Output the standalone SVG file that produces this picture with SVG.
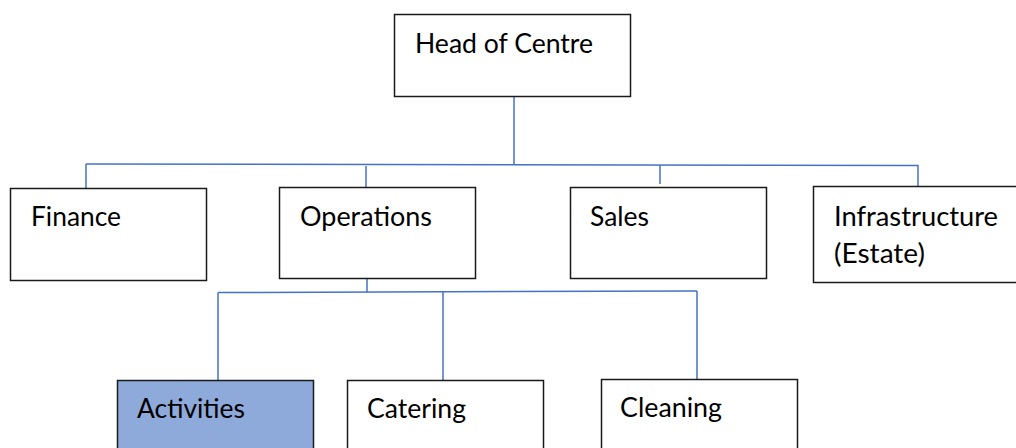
<svg xmlns="http://www.w3.org/2000/svg" width="1016" height="448" viewBox="0 0 1016 448">
<style>
.box{fill:#ffffff;stroke:#1a1a1a;stroke-width:1.5}
.hl{fill:#8eaadb}
.t{font-family:Lato,"Open Sans","Liberation Sans",sans-serif;font-size:26px;fill:#000}
.c{fill:none;stroke:#4472c4;stroke-width:1.5}
</style>
<rect width="1016" height="448" fill="#ffffff"/>
<g id="connectors">
<path class="c" d="M514 96V164.5"/>
<path class="c" d="M86 164L918 165.5"/>
<path class="c" d="M86 164V188"/>
<path class="c" d="M366 166V187"/>
<path class="c" d="M660 165V184"/>
<path class="c" d="M918 165V188"/>
<path class="c" d="M367 278V292"/>
<path class="c" d="M218 292.5L697 291"/>
<path class="c" d="M218 292.5V380"/>
<path class="c" d="M443 292V380"/>
<path class="c" d="M697 291V379"/>
</g>
<g id="head">
<rect class="box" x="394.5" y="14.5" width="236" height="82"/>
<text class="t" x="415" y="53" textLength="178" lengthAdjust="spacingAndGlyphs">Head of Centre</text>
</g>
<g id="finance">
<rect class="box" x="10.5" y="188.5" width="196" height="92"/>
<text class="t" x="31" y="226" textLength="90" lengthAdjust="spacingAndGlyphs">Finance</text>
</g>
<g id="operations">
<rect class="box" x="279.5" y="187.5" width="196" height="91"/>
<text class="t" x="300" y="226" textLength="132" lengthAdjust="spacingAndGlyphs">Operations</text>
</g>
<g id="sales">
<rect class="box" x="570.5" y="187.5" width="196" height="91"/>
<text class="t" x="590" y="226" textLength="59" lengthAdjust="spacingAndGlyphs">Sales</text>
</g>
<g id="infrastructure">
<rect class="box" x="813.5" y="186.5" width="210" height="96"/>
<text class="t" x="834" y="226" textLength="164" lengthAdjust="spacingAndGlyphs">Infrastructure</text>
<text class="t" x="834" y="263" textLength="91" lengthAdjust="spacingAndGlyphs">(Estate)</text>
</g>
<g id="activities">
<rect class="box hl" x="117.5" y="380.5" width="196" height="80"/>
<text class="t" x="137" y="418" textLength="108" lengthAdjust="spacingAndGlyphs">Activities</text>
</g>
<g id="catering">
<rect class="box" x="347.5" y="380.5" width="196" height="80"/>
<text class="t" x="367" y="418" textLength="99" lengthAdjust="spacingAndGlyphs">Catering</text>
</g>
<g id="cleaning">
<rect class="box" x="601.5" y="379.5" width="196" height="80"/>
<text class="t" x="620" y="417" textLength="102" lengthAdjust="spacingAndGlyphs">Cleaning</text>
</g>
</svg>
